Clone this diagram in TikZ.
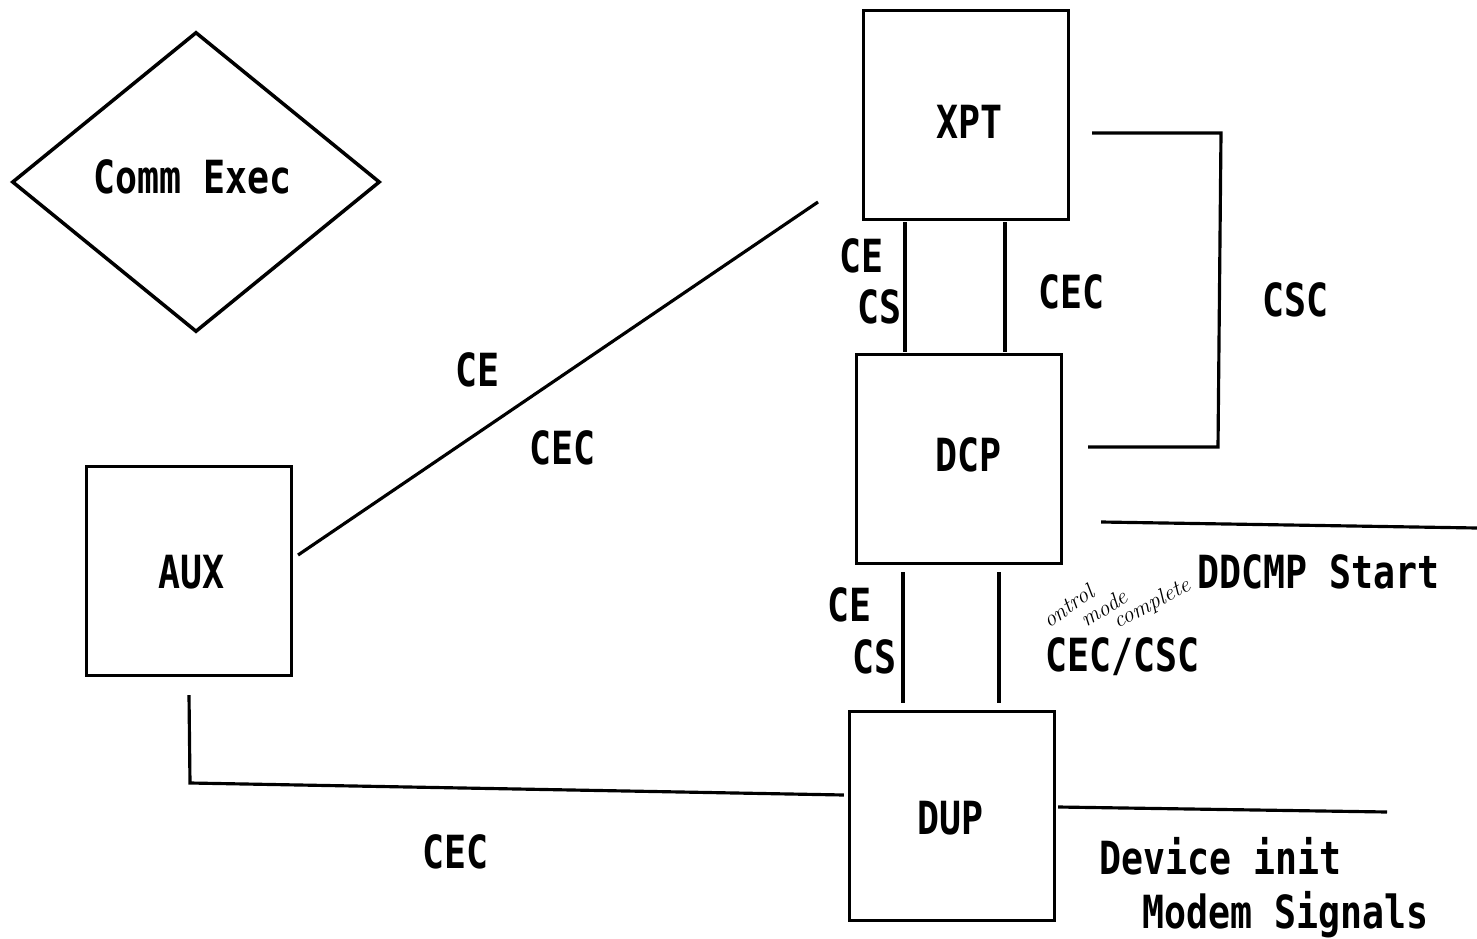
\documentclass[tikz,border=0pt]{standalone}
\usepackage{fontspec}
\setmonofont[FakeStretch=0.8]{DejaVu Sans Mono}
\usepackage{tikz}
\usetikzlibrary{shapes.geometric,calc}

\begin{document}
\begin{tikzpicture}[x=0.02cm,y=-0.02cm,
  lbl/.style={inner sep=0pt,text height=.66cm,text depth=0pt,font=\ttfamily\bfseries\fontsize{26}{30}\selectfont},
  note/.style={inner sep=0pt,font=\itshape\fontsize{13}{14}\selectfont},
  unit/.style={draw,line width=1.8pt,inner sep=0pt,minimum width=4.1cm,minimum height=4.18cm},
  wire/.style={line width=1.8pt}]
  \useasboundingbox (0,0) rectangle (1477,939);

  % units
  \node[draw,shape=diamond,line width=2pt,inner sep=0pt,minimum width=7.36cm,minimum height=6cm] (exec) at (196,182) {};
  \node[unit] (xpt) at (966,115) {};
  \node[unit] (dcp) at (959,459) {};
  \node[unit] (dup) at (952,816) {};
  \node[unit] (aux) at (189,571) {};

  % free ends
  \coordinate (xptin) at (818,202);
  \coordinate (cscA) at (1221,133);
  \coordinate (cscB) at (1218,447);
  \coordinate (ddcmp) at (1477,528);
  \coordinate (devend) at (1387,812);
  \coordinate (auxbend) at (190,783);

  % connectors
  \draw[wire] ([xshift=.1cm]aux.east |- 0,555) -- (xptin);
  \draw[wire,shorten <=.02cm,shorten >=.02cm] (905,0 |- xpt.south) -- (905,0 |- dcp.north);
  \draw[wire,shorten <=.02cm,shorten >=.02cm] (1005,0 |- xpt.south) -- (1005,0 |- dcp.north);
  \draw[wire] ([xshift=.44cm]xpt.east |- cscA) -- (cscA) -- (cscB) -- ([xshift=.5cm]dcp.east |- cscB);
  \draw[wire] ([xshift=.76cm]dcp.east |- 0,522) -- (ddcmp);
  \draw[wire,shorten <=.14cm,shorten >=.14cm] (903,0 |- dcp.south) -- (903,0 |- dup.north);
  \draw[wire,shorten <=.14cm,shorten >=.14cm] (999,0 |- dcp.south) -- (999,0 |- dup.north);
  \draw[wire] ([yshift=-.36cm]aux.south) -- (auxbend) -- ([xshift=-.08cm]dup.west |- 0,795);
  \draw[wire] ([xshift=.04cm]dup.east |- 0,807) -- (devend);

  % labels
  \node[lbl] (execlbl) at (193,177) {Comm Exec};
  \node[lbl] (xptlbl) at (969,122) {XPT};
  \node[lbl] (dcplbl) at (968,455) {DCP};
  \node[lbl] (duplbl) at (950,818) {DUP};
  \node[lbl] (auxlbl) at (192,572) {AUX};
  \node[lbl] (ce1) at (861,256) {CE};
  \node[lbl] (cs1) at (879,307) {CS};
  \node[lbl] (cec1) at (1071,292) {CEC};
  \node[lbl] (csc1) at (1295,300) {CSC};
  \node[lbl] (ce2) at (477,370) {CE};
  \node[lbl] (cec2) at (562,448) {CEC};
  \node[lbl] (start) at (1318,572) {DDCMP Start};
  \node[lbl] (ce3) at (849,605) {CE};
  \node[lbl] (cs3) at (874,657) {CS};
  \node[lbl] (cec3) at (1122,655) {CEC/CSC};
  \node[lbl] (cec4) at (455,852) {CEC};
  \node[lbl] (init) at (1220,858) {Device init};
  \node[lbl] (modem) at (1285,912) {Modem Signals};

  % handwritten note
  \node[note,rotate=35] (hw1) at (1068,606) {ontrol};
  \node[note,rotate=32] (hw2) at (1104,608) {mode};
  \node[note,rotate=28] (hw3) at (1152,604) {complete};
\end{tikzpicture}
\end{document}
